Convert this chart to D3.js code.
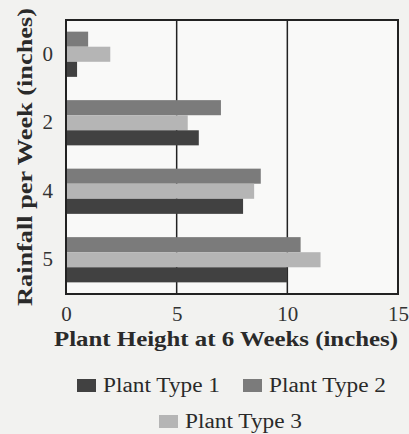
<!DOCTYPE html>
<html>
<head>
<meta charset="utf-8">
<script src="https://cdn.jsdelivr.net/npm/d3@7"></script>
<style>
    body { margin: 0; background: #f2f2f0; }
    svg { display: block; font-family: "Liberation Serif", "DejaVu Serif", serif; }
</style>
</head>
<body>
<div id="chart"></div>
<script>
// Rainfall categories (top to bottom)
const rainfall = ["0", "2", "4", "5"];
// Series drawn inside each group, top to bottom
const seriesOrder = ["Plant Type 2", "Plant Type 3", "Plant Type 1"];
const legendOrder = ["Plant Type 1", "Plant Type 2", "Plant Type 3"];

// Plant height at 6 weeks (inches), one value per rainfall category
const type1 = [0.5, 6, 8, 10];
const type2 = [1, 7, 8.8, 10.6];
const type3 = [2, 5.5, 8.5, 11.5];

const xTicks = [0, 5, 10, 15];

const colors = {
    "Plant Type 1": "#414141",
    "Plant Type 2": "#7b7b7b",
    "Plant Type 3": "#b5b5b5"
};

const data = rainfall.map((r, i) => ({
    rain: r,
    values: [
        { key: "Plant Type 2", value: type2[i] },
        { key: "Plant Type 3", value: type3[i] },
        { key: "Plant Type 1", value: type1[i] }
    ]
}));

const W = 409, H = 434;
const margin = { top: 20, right: 11, bottom: 140, left: 66 };
const width = W - margin.left - margin.right;
const height = H - margin.top - margin.bottom;

const svg = d3.select("#chart").append("svg")
    .attr("width", W)
    .attr("height", H);

const g = svg.append("g")
    .attr("transform", `translate(${margin.left}, ${margin.top})`);

// scales
const x = d3.scaleLinear().domain([0, 15]).range([0, width]);
const y0 = d3.scaleBand().domain(rainfall).range([0, height])
    .paddingInner(0.34).paddingOuter(0.17);
const y1 = d3.scaleBand().domain(seriesOrder).range([0, y0.bandwidth()]);

// plot background
g.append("rect")
    .attr("width", width)
    .attr("height", height)
    .attr("fill", "#f9f9f8");

// vertical grid lines at 5 and 10
g.selectAll(".grid")
    .data(xTicks.slice(1, -1))
    .enter().append("line")
    .attr("class", "grid")
    .attr("x1", d => x(d)).attr("x2", d => x(d))
    .attr("y1", 0).attr("y2", height)
    .attr("stroke", "#222")
    .attr("stroke-width", 1.5);

// bars
const groups = g.selectAll(".group")
    .data(data)
    .enter().append("g")
    .attr("class", "group")
    .attr("transform", d => `translate(0, ${y0(d.rain)})`);

groups.selectAll("rect")
    .data(d => d.values)
    .enter().append("rect")
    .attr("x", 0)
    .attr("y", d => y1(d.key))
    .attr("width", d => x(d.value))
    .attr("height", y1.bandwidth())
    .attr("fill", d => colors[d.key]);

// frame
g.append("rect")
    .attr("width", width)
    .attr("height", height)
    .attr("fill", "none")
    .attr("stroke", "#222")
    .attr("stroke-width", 2);

// axes
const xAxis = g.append("g")
    .attr("transform", `translate(0, ${height})`)
    .call(d3.axisBottom(x).tickValues(xTicks).tickSize(0).tickPadding(12));
xAxis.select(".domain").remove();
xAxis.selectAll("text")
    .attr("font-family", "Liberation Serif, serif")
    .attr("font-size", 21)
    .attr("fill", "#333");

const yAxis = g.append("g")
    .call(d3.axisLeft(y0).tickSize(0).tickPadding(13));
yAxis.select(".domain").remove();
yAxis.selectAll("text")
    .attr("font-family", "Liberation Serif, serif")
    .attr("font-size", 21)
    .attr("fill", "#333");

// axis titles (textLength stretches the narrower fallback serif to the original width)
svg.append("text")
    .attr("x", 226)
    .attr("y", 346)
    .attr("text-anchor", "middle")
    .attr("font-size", 21)
    .attr("font-weight", "bold")
    .attr("fill", "#2a2a2a")
    .attr("textLength", 344)
    .attr("lengthAdjust", "spacingAndGlyphs")
    .text("Plant Height at 6 Weeks (inches)");

svg.append("text")
    .attr("transform", "translate(32, 157) rotate(-90)")
    .attr("text-anchor", "middle")
    .attr("font-size", 22)
    .attr("font-weight", "bold")
    .attr("fill", "#2a2a2a")
    .attr("textLength", 298)
    .attr("lengthAdjust", "spacingAndGlyphs")
    .text("Rainfall per Week (inches)");

// legend
const legendPos = [
    { x: 77, y: 379 },
    { x: 243, y: 379 },
    { x: 159, y: 415 }
];
const legend = svg.selectAll(".legend")
    .data(legendOrder)
    .enter().append("g")
    .attr("class", "legend")
    .attr("transform", (d, i) => `translate(${legendPos[i].x}, ${legendPos[i].y})`);

legend.append("rect")
    .attr("width", 19)
    .attr("height", 13)
    .attr("fill", d => colors[d]);

legend.append("text")
    .attr("x", 26)
    .attr("y", 13)
    .attr("font-size", 20)
    .attr("fill", "#2a2a2a")
    .attr("textLength", 117)
    .attr("lengthAdjust", "spacingAndGlyphs")
    .text(d => d);
</script>
</body>
</html>
